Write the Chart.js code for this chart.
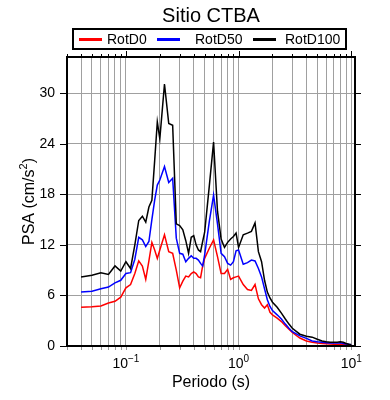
<!DOCTYPE html>
<html>
<head>
<meta charset="utf-8">
<script src="https://cdn.jsdelivr.net/npm/chart.js@4.4.1/dist/chart.umd.min.js"></script>
<style>
  html, body { margin: 0; padding: 0; background: #fff; }
  canvas { display: block; }
</style>
</head>
<body>
<canvas id="psa-chart" width="390" height="400"></canvas>
<script>
// Periods (s) and spectral ordinates (cm/s2)
const periods = [0.04, 0.05, 0.06, 0.07, 0.08, 0.09, 0.1, 0.11, 0.12, 0.13, 0.14, 0.15, 0.16, 0.17, 0.18, 0.19, 0.2,
    0.22, 0.24, 0.26, 0.28, 0.3, 0.32, 0.34, 0.36, 0.38, 0.4, 0.42, 0.44, 0.46, 0.48, 0.5,
    0.55, 0.6, 0.65, 0.7, 0.75, 0.8, 0.85, 0.9, 0.95, 1.0,
    1.1, 1.2, 1.3, 1.4, 1.5, 1.6, 1.7, 1.8, 1.9, 2.0,
    2.2, 2.4, 2.6, 2.8, 3.0,
    3.5, 4.0, 4.5, 5.0, 5.5, 6.0, 6.5, 7.0, 7.5, 8.0, 8.5, 9.0, 9.5, 10.0];

const rotD0 = [4.6, 4.65, 4.75, 5.1, 5.3, 5.8, 6.9, 7.3, 8.6, 10.1, 9.5, 7.9, 10.1, 12.3, 11.4, 10.4, 11.4,
    13.2, 11.2, 11.0, 9.0, 6.9, 7.7, 8.3, 8.2, 8.6, 8.8, 8.6, 8.2, 8.1, 9.5, 10.4,
    11.6, 12.6, 10.6, 8.6, 8.6, 9.1, 7.9, 8.1, 8.2, 8.3,
    7.3, 6.7, 6.6, 7.3, 5.6, 4.9, 4.5, 4.9, 4.0, 3.7,
    3.3, 2.9, 2.4, 2.0, 1.6,
    0.95, 0.6, 0.45, 0.35, 0.3, 0.28, 0.25, 0.22, 0.2, 0.22, 0.2, 0.2, 0.15, 0.1];

const rotD50 = [6.4, 6.5, 6.8, 7.0, 7.5, 7.8, 8.6, 8.7, 10.3, 12.9, 12.6, 11.8, 12.4, 15.0, 17.3, 19.1, 19.7,
    21.3, 19.4, 19.9, 12.8, 11.0, 10.9, 10.0, 10.4, 10.7, 10.4, 10.4, 10.2, 9.8, 9.5, 10.8,
    14.8, 17.9, 14.5, 11.0, 10.6, 9.8, 9.6, 10.0, 11.3, 11.4,
    9.7, 9.9, 10.2, 10.1, 9.2, 8.2, 6.8, 5.5, 4.7, 4.2,
    3.7, 3.2, 2.6, 2.1, 1.7,
    1.2, 0.9, 0.6, 0.5, 0.45, 0.4, 0.36, 0.36, 0.36, 0.38, 0.3, 0.25, 0.2, 0.15];

const rotD100 = [8.2, 8.4, 8.7, 8.5, 9.5, 8.9, 10.0, 9.2, 12.0, 14.9, 15.4, 14.7, 16.5, 17.3, 22.0, 26.6, 24.6,
    31.1, 26.4, 26.2, 14.5, 14.3, 13.8, 12.5, 11.0, 12.9, 13.1, 12.0, 11.4, 11.2, 12.4, 13.5,
    19.0, 24.2, 16.0, 12.7, 11.7, 12.3, 12.7, 13.0, 13.4, 11.7,
    13.2, 13.4, 13.6, 14.6, 11.2, 10.0, 7.8, 6.4, 5.7, 5.2,
    4.6, 3.9, 3.2, 2.6, 2.1,
    1.4, 1.15, 1.05, 0.8, 0.6, 0.5, 0.45, 0.45, 0.45, 0.5, 0.45, 0.3, 0.2, 0.15];

const seriesNames = ['RotD0', 'RotD50', 'RotD100'];
const seriesColors = ['#ff0000', '#0000ff', '#000000'];
const yTicks = [0, 6, 12, 18, 24, 30];
const xDecades = [0.1, 1, 10];
const xTickExponents = ['\u22121', '0', '1'];

const FONT = '"Liberation Sans", Arial, Helvetica, sans-serif';
const X_MIN = 0.03;
const X_MAX = 10.8;
const Y_MAX = 34.3;

// every 1..9 x 10^k inside the axis range, for the log grid
function logGridValues(min, max) {
    const values = [];
    for (let k = -2; k <= 1; k++) {
        for (let m = 1; m <= 9; m++) {
            const v = +(m * Math.pow(10, k)).toPrecision(3);
            if (v >= min && v <= max) values.push(v);
        }
    }
    return values;
}

function toPoints(values) {
    return periods.map((p, i) => ({ x: p, y: values[i] }));
}

function drawPower(ctx, base, exp, cx, baseline) {
    ctx.font = '14px ' + FONT;
    const wb = ctx.measureText(base).width;
    ctx.font = '10px ' + FONT;
    const we = ctx.measureText(exp).width;
    const left = cx - (wb + we) / 2;
    ctx.textAlign = 'left';
    ctx.textBaseline = 'alphabetic';
    ctx.font = '14px ' + FONT;
    ctx.fillText(base, left, baseline);
    ctx.font = '10px ' + FONT;
    ctx.fillText(exp, left + wb, baseline - 6);
}

const decorations = {
    id: 'decorations',
    afterDraw(chart) {
        const { ctx, chartArea: a, scales: { x, y } } = chart;
        ctx.save();
        ctx.fillStyle = '#000';

        // tick marks on all four sides
        ctx.lineWidth = 1;
        ctx.strokeStyle = '#000';
        ctx.beginPath();
        yTicks.forEach(v => {
            const py = Math.round(y.getPixelForValue(v)) + 0.5;
            ctx.moveTo(a.left - 7, py); ctx.lineTo(a.left, py);
            ctx.moveTo(a.right, py); ctx.lineTo(a.right + 6, py);
        });
        logGridValues(X_MIN, X_MAX).forEach(v => {
            const px = Math.round(x.getPixelForValue(v)) + 0.5;
            const len = xDecades.includes(v) ? 6 : 3;
            ctx.moveTo(px, a.top - len); ctx.lineTo(px, a.top);
        });
        ctx.stroke();
        ctx.strokeStyle = '#999';
        ctx.beginPath();
        logGridValues(X_MIN, X_MAX).forEach(v => {
            const px = Math.round(x.getPixelForValue(v)) + 0.5;
            ctx.moveTo(px, a.bottom); ctx.lineTo(px, a.bottom + 4);
        });
        ctx.stroke();

        // frame
        ctx.lineWidth = 2;
        ctx.strokeStyle = '#000';
        ctx.strokeRect(a.left, a.top, a.right - a.left, a.bottom - a.top);

        // x tick labels as powers of ten
        xDecades.forEach((v, i) => {
            drawPower(ctx, '10', xTickExponents[i], x.getPixelForValue(v), a.bottom + 22);
        });

        // axis titles
        ctx.font = '16px ' + FONT;
        ctx.textAlign = 'center';
        ctx.textBaseline = 'alphabetic';
        ctx.fillText('Periodo (s)', (a.left + a.right) / 2, a.bottom + 41);

        ctx.save();
        ctx.translate(34, (a.top + a.bottom) / 2);
        ctx.rotate(-Math.PI / 2);
        const main = 'PSA (cm/s';
        ctx.font = '16px ' + FONT;
        const wMain = ctx.measureText(main).width;
        const wClose = ctx.measureText(')').width;
        ctx.font = '11px ' + FONT;
        const wSup = ctx.measureText('2').width;
        let left = -(wMain + wSup + wClose) / 2;
        ctx.textAlign = 'left';
        ctx.font = '16px ' + FONT;
        ctx.fillText(main, left, 0);
        ctx.font = '11px ' + FONT;
        ctx.fillText('2', left + wMain, -7);
        ctx.font = '16px ' + FONT;
        ctx.fillText(')', left + wMain + wSup, 0);
        ctx.restore();

        // title
        ctx.font = '20px ' + FONT;
        ctx.textAlign = 'center';
        ctx.fillText('Sitio CTBA', (a.left + a.right) / 2, 22);

        // legend box
        ctx.lineWidth = 2;
        ctx.strokeRect(73, 29, 273, 20);
        const lineStarts = [79, 157, 253];
        const textStarts = [107, 195, 285];
        ctx.font = '14px ' + FONT;
        ctx.textAlign = 'left';
        ctx.textBaseline = 'middle';
        chart.data.datasets.forEach((ds, i) => {
            ctx.strokeStyle = ds.borderColor;
            ctx.lineWidth = 3;
            ctx.beginPath();
            ctx.moveTo(lineStarts[i], 39.5);
            ctx.lineTo(lineStarts[i] + 23, 39.5);
            ctx.stroke();
            ctx.fillStyle = '#000';
            ctx.fillText(ds.label, textStarts[i], 40);
        });

        ctx.restore();
    }
};

const seriesValues = [rotD0, rotD50, rotD100];

new Chart(document.getElementById('psa-chart').getContext('2d'), {
    type: 'line',
    data: {
        datasets: seriesNames.map((name, i) => ({
            label: name,
            data: toPoints(seriesValues[i]),
            borderColor: seriesColors[i],
            borderWidth: 1.5,
            pointRadius: 0,
            tension: 0,
            fill: false,
            order: 3 - i
        }))
    },
    options: {
        responsive: false,
        animation: false,
        layout: { padding: { left: 0, right: 35, top: 57, bottom: 0 } },
        plugins: {
            legend: { display: false },
            title: { display: false },
            tooltip: { enabled: false }
        },
        scales: {
            x: {
                type: 'logarithmic',
                min: X_MIN,
                max: X_MAX,
                afterBuildTicks: scale => {
                    scale.ticks = logGridValues(X_MIN, X_MAX).map(v => ({ value: v }));
                },
                afterFit: scale => { scale.height = 54; },
                ticks: { display: false },
                grid: { color: '#a0a0a0', lineWidth: 1, drawTicks: false },
                border: { display: false }
            },
            y: {
                min: 0,
                max: Y_MAX,
                afterBuildTicks: scale => {
                    scale.ticks = yTicks.map(v => ({ value: v }));
                },
                afterFit: scale => { scale.width = 67; },
                ticks: {
                    color: '#000',
                    padding: 12,
                    font: { family: FONT, size: 14 }
                },
                grid: { color: '#a0a0a0', lineWidth: 1, drawTicks: false },
                border: { display: false }
            }
        }
    },
    plugins: [decorations]
});
</script>
</body>
</html>
